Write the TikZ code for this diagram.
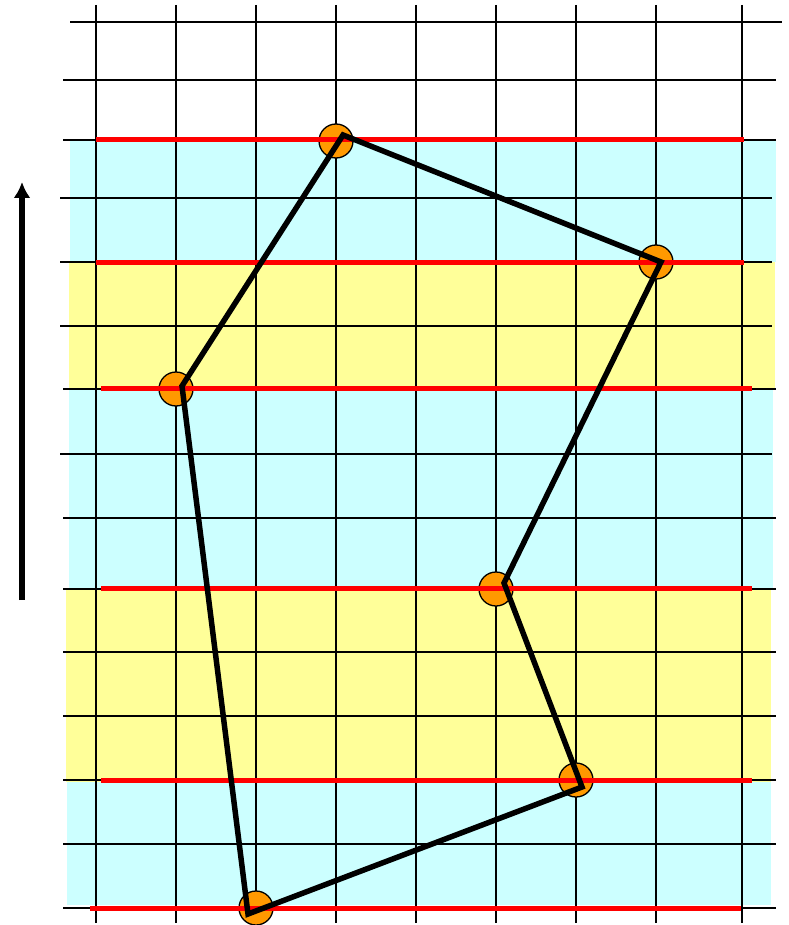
\documentclass[tikz,border=0pt]{standalone}
\usetikzlibrary{arrows.meta}
\definecolor{lcyan}{HTML}{CCFFFF}
\definecolor{lyellow}{HTML}{FFFF99}
\definecolor{vorange}{HTML}{FF9900}
\begin{document}
\begin{tikzpicture}[x=1pt,y=-1pt,
  gridline/.style={line width=2pt,black},
  redline/.style={line width=5pt,red},
  poly/.style={line width=5.5pt,black,line join=miter},
  vertex/.style={circle,draw=black,line width=1.3pt,fill=vorange,minimum size=34pt,inner sep=0pt},
  uparrow/.style={line width=5.5pt,black,-{Latex[length=16pt,width=17pt]}}]
\useasboundingbox (0,0) rectangle (788,925);
% background bands
\fill[lcyan] (70,140) rectangle (776,262);
\fill[lyellow] (69,262) rectangle (775,389);
\fill[lcyan] (69,389) rectangle (773,589);
\fill[lyellow] (66,589) rectangle (771,782);
\fill[lcyan] (67,782) rectangle (771,905);
% grid
\foreach \y/\a/\b in {22/70/782, 80/63/776, 140/63/776, 198/60/772, 262/60/772, 326/60/772, 389/63/776, 454/60/772, 518/63/776, 589/63/776, 652/63/776, 716/63/776, 780/63/776, 844/63/776, 908/63/776}
  \draw[gridline] (\a,\y) -- (\b,\y);
\foreach \x in {96,176,256,336,416,496,576,656,742}
  \draw[gridline] (\x,5) -- (\x,923);
% vertices
\node[vertex] (A) at (336,141) {};
\node[vertex] (B) at (656,262) {};
\node[vertex] (C) at (176,389) {};
\node[vertex] (D) at (496,589) {};
\node[vertex] (E) at (576,780) {};
\node[vertex] (F) at (256,908) {};
% red scan lines
\draw[redline] (96,140) -- (744,140);
\draw[redline] (96,262) -- (744,262);
\draw[redline] (101,388) -- (752,388);
\draw[redline] (101,588) -- (752,588);
\draw[redline] (101,780) -- (752,780);
\draw[redline] (90,908) -- (741,908);
% polygon
\coordinate (pA) at (343,135);
\coordinate (pB) at (661,262);
\coordinate (pD) at (504,583);
\coordinate (pE) at (582,787);
\coordinate (pF) at (248,914);
\coordinate (pC) at (182,386);
\draw[poly] (pA) -- (pB) -- (pD) -- (pE) -- (pF) -- (pC) -- cycle;
% arrow
\coordinate (arrS) at (22,600);
\coordinate (arrE) at (22,182);
\draw[uparrow] (arrS) -- (arrE);
\end{tikzpicture}
\end{document}
